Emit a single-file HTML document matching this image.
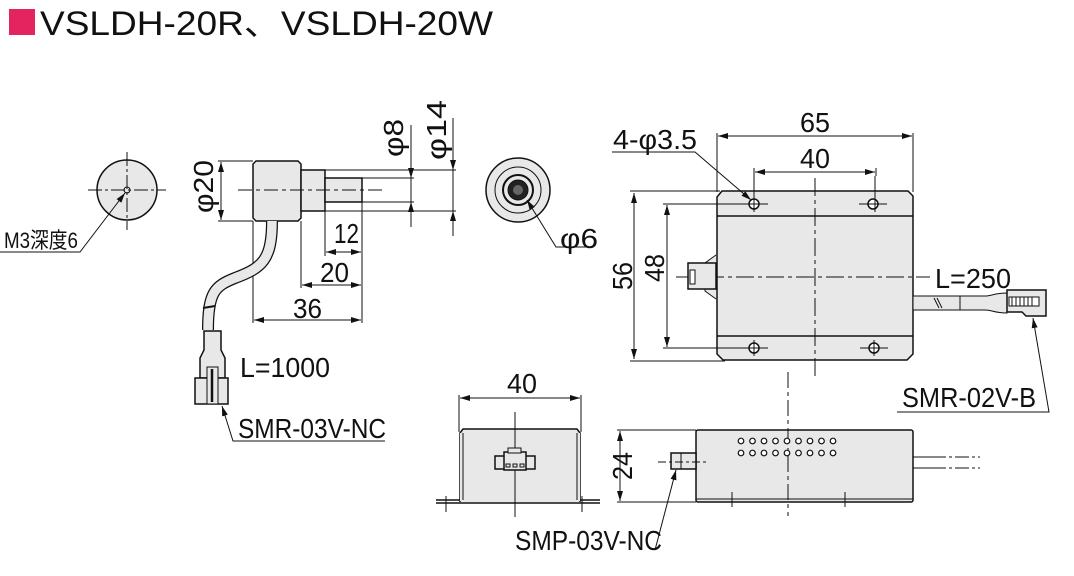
<!DOCTYPE html>
<html><head><meta charset="utf-8"><style>
html,body{margin:0;padding:0;background:#fff;}
svg{display:block;}
text{font-family:"Liberation Sans","Noto Sans CJK JP",sans-serif;fill:#111;}
</style></head><body>
<svg width="1074" height="576" viewBox="0 0 1074 576" xmlns="http://www.w3.org/2000/svg">
<defs>
<marker id="a" viewBox="0 0 10 6" refX="10" refY="3" markerWidth="10" markerHeight="6" orient="auto-start-reverse" markerUnits="userSpaceOnUse"><path d="M0,0 L10,3 L0,6z" fill="#111"/></marker>
</defs>
<rect x="9" y="9" width="26" height="26" fill="#e3245f"/>
<text x="40" y="35" font-size="34" textLength="453" lengthAdjust="spacingAndGlyphs">VSLDH-20R、VSLDH-20W</text>

<g stroke="#111" fill="none" stroke-width="1">
<circle cx="127" cy="190" r="30" fill="#e8e8e8" stroke-width="1.5"/>
<circle cx="127" cy="190" r="3"/>
<line x1="88" y1="190" x2="166" y2="190" stroke-dasharray="14,3,3,3"/>
<line x1="127" y1="152" x2="127" y2="230" stroke-dasharray="14,3,3,3"/>
<polyline points="125,193 80,252 0,252" marker-start="url(#a)"/>

<path d="M256,161 H298 L301,164 V218 L298,221 H256 L253,218 V164Z" fill="#e8e8e8" stroke-width="1.5"/>
<rect x="301" y="170" width="24" height="41" fill="#e8e8e8" stroke-width="1.5"/>
<rect x="325" y="178" width="37" height="24" fill="#e8e8e8" stroke-width="1.5"/>
<line x1="238" y1="190" x2="382" y2="190" stroke-dasharray="14,4,4,4"/>
<line x1="218" y1="161" x2="253" y2="161"/><line x1="218" y1="221" x2="253" y2="221"/>
<line x1="221" y1="162" x2="221" y2="220" marker-start="url(#a)" marker-end="url(#a)"/>
<line x1="362" y1="178" x2="414" y2="178"/><line x1="362" y1="202" x2="414" y2="202"/>
<line x1="411" y1="125" x2="411" y2="227"/>
<line x1="411" y1="168" x2="411" y2="178" marker-end="url(#a)"/>
<line x1="411" y1="212" x2="411" y2="202" marker-end="url(#a)"/>
<line x1="325" y1="170" x2="456" y2="170"/><line x1="325" y1="211" x2="456" y2="211"/>
<line x1="453" y1="118" x2="453" y2="236"/>
<line x1="453" y1="160" x2="453" y2="170" marker-end="url(#a)"/>
<line x1="453" y1="221" x2="453" y2="211" marker-end="url(#a)"/>
<line x1="325" y1="211" x2="325" y2="256"/><line x1="362" y1="202" x2="362" y2="323"/>
<line x1="301" y1="221" x2="301" y2="288"/><line x1="253" y1="221" x2="253" y2="323"/>
<line x1="326" y1="252" x2="361" y2="252" marker-start="url(#a)" marker-end="url(#a)"/>
<line x1="302" y1="285" x2="361" y2="285" marker-start="url(#a)" marker-end="url(#a)"/>
<line x1="254" y1="320" x2="361" y2="320" marker-start="url(#a)" marker-end="url(#a)"/>
<path d="M272,221 C272,260 262,268 235,278 C215,286 208,292 208,330" stroke-width="12" stroke="#111"/>
<path d="M272,221 C272,260 262,268 235,278 C215,286 208,292 208,330" stroke-width="9.5" stroke="#e8e8e8"/>
<line x1="203" y1="308" x2="215" y2="306" stroke-width="2"/>
<path d="M204,331 H221 V350 L225,358 V378 H200 V358 L204,350Z" fill="#e8e8e8" stroke-width="1.5"/>
<rect x="195" y="378" width="33" height="26" fill="#e8e8e8" stroke-width="1.5"/>
<rect x="207" y="367" width="11" height="37" fill="#e8e8e8"/>
<line x1="212" y1="369" x2="212" y2="402" stroke-width="2.5"/>
<polyline points="222,406 233,441 385,441" marker-start="url(#a)"/>

<circle cx="518" cy="190" r="32" fill="#e8e8e8" stroke-width="1.5"/>
<circle cx="518" cy="190" r="23"/>
<circle cx="518" cy="190" r="15" stroke-width="2"/>
<circle cx="518" cy="190" r="10" fill="#222"/>
<circle cx="518" cy="190" r="5" fill="#666" stroke="none"/>
<polyline points="527,200 556,247 592,247" marker-start="url(#a)"/>

<path d="M722,191 H908 L913,196 V354 L907,360 H723 L717,354 V197Z" fill="#e8e8e8" stroke-width="1.5"/>
<line x1="717" y1="216" x2="913" y2="216" stroke-width="1.5"/>
<line x1="717" y1="336" x2="913" y2="336" stroke-width="1.5"/>
<circle cx="754" cy="204" r="5" fill="#fff" stroke-width="1.5"/><circle cx="873" cy="204" r="5" fill="#fff" stroke-width="1.5"/>
<circle cx="754" cy="348" r="5" fill="#fff" stroke-width="1.5"/><circle cx="874" cy="348" r="5" fill="#fff" stroke-width="1.5"/>
<line x1="740" y1="204" x2="768" y2="204"/><line x1="754" y1="176" x2="754" y2="212"/>
<line x1="859" y1="204" x2="887" y2="204"/><line x1="875" y1="176" x2="875" y2="212"/>
<line x1="740" y1="348" x2="768" y2="348"/><line x1="754" y1="340" x2="754" y2="356"/>
<line x1="860" y1="348" x2="888" y2="348"/><line x1="874" y1="340" x2="874" y2="356"/>
<line x1="815" y1="178" x2="815" y2="376" stroke-dasharray="18,4,4,4"/>
<line x1="676" y1="277" x2="930" y2="277" stroke-dasharray="18,4,4,4"/>
<path d="M716,255 L705,263 V291 L716,299" fill="#e8e8e8"/>
<rect x="688" y="263" width="28" height="26" fill="#e8e8e8" stroke-width="1.5"/>
<rect x="690" y="270" width="5" height="14" fill="#fff"/>
<rect x="913" y="296" width="47" height="14" fill="#e8e8e8"/>
<path d="M960,296 H985 C992,296 994,293 1007,293 V313 C994,313 992,310 985,310 H960Z" fill="#e8e8e8"/>
<line x1="934" y1="298" x2="939" y2="308"/><line x1="937" y1="298" x2="942" y2="308"/>
<path d="M1007,290 H1046 V316 H1026 L1022,312 H1007Z" fill="#e8e8e8" stroke-width="1.5"/>
<rect x="1009" y="297" width="30" height="9" fill="#fff"/>
<line x1="1012" y1="297" x2="1012" y2="306"/><line x1="1016" y1="297" x2="1016" y2="306"/><line x1="1020" y1="297" x2="1020" y2="306"/><line x1="1024" y1="297" x2="1024" y2="306"/><line x1="1028" y1="297" x2="1028" y2="306"/><line x1="1032" y1="297" x2="1032" y2="306"/>
<line x1="717" y1="133" x2="717" y2="192"/><line x1="913" y1="133" x2="913" y2="192"/>
<line x1="718" y1="136" x2="912" y2="136" marker-start="url(#a)" marker-end="url(#a)"/>
<line x1="754" y1="168" x2="754" y2="176"/><line x1="876" y1="168" x2="876" y2="176"/>
<line x1="755" y1="172" x2="875" y2="172" marker-start="url(#a)" marker-end="url(#a)"/>
<polyline points="612,152 695,152 751,200" marker-end="url(#a)"/>
<line x1="630" y1="191" x2="720" y2="191"/><line x1="630" y1="361" x2="725" y2="361"/>
<line x1="634" y1="193" x2="634" y2="359" marker-start="url(#a)" marker-end="url(#a)"/>
<line x1="663" y1="204" x2="745" y2="204"/><line x1="663" y1="348" x2="745" y2="348"/>
<line x1="667" y1="205" x2="667" y2="347" marker-start="url(#a)" marker-end="url(#a)"/>
<polyline points="1033,318 1049,412 897,412" marker-start="url(#a)"/>

<path d="M460,502 V433 L463,429 H577 L580,433 V502" fill="#e8e8e8" stroke-width="1.5"/>
<path d="M436,503 H600 M436,500 H460 M580,500 H600" stroke-width="1.5"/>
<rect x="460" y="433" width="120" height="68" fill="#e8e8e8" stroke="none"/>
<line x1="463" y1="433" x2="463" y2="500"/><line x1="577" y1="433" x2="577" y2="500"/>
<line x1="446" y1="496" x2="446" y2="512"/><line x1="582" y1="496" x2="582" y2="512"/>
<line x1="515" y1="412" x2="515" y2="517"/>
<rect x="495" y="456" width="40" height="13" fill="#e8e8e8" stroke-width="1.5"/>
<rect x="504" y="452" width="22" height="18" fill="#e8e8e8" stroke-width="1.5"/>
<rect x="508" y="448" width="13" height="5" fill="#e8e8e8"/>
<rect x="506" y="464" width="4" height="3"/><rect x="513" y="464" width="4" height="3"/><rect x="520" y="464" width="4" height="3"/>
<line x1="459" y1="395" x2="459" y2="432"/><line x1="581" y1="395" x2="581" y2="432"/>
<line x1="460" y1="398" x2="580" y2="398" marker-start="url(#a)" marker-end="url(#a)"/>

<rect x="696" y="430" width="217" height="72" rx="2" fill="#e8e8e8" stroke-width="1.5"/>
<line x1="696" y1="499" x2="913" y2="499"/>
<line x1="732" y1="492" x2="732" y2="507"/><line x1="845" y1="492" x2="845" y2="507"/>
<line x1="788" y1="372" x2="788" y2="516" stroke-dasharray="16,4,4,4"/>
<g stroke-width="1.2" fill="#fff">
<circle cx="741" cy="441" r="2.8"/><circle cx="752.5" cy="441" r="2.8"/><circle cx="764" cy="441" r="2.8"/><circle cx="775.5" cy="441" r="2.8"/><circle cx="787" cy="441" r="2.8"/><circle cx="798.5" cy="441" r="2.8"/><circle cx="810" cy="441" r="2.8"/><circle cx="821.5" cy="441" r="2.8"/><circle cx="833" cy="441" r="2.8"/>
<circle cx="741" cy="453" r="2.8"/><circle cx="752.5" cy="453" r="2.8"/><circle cx="764" cy="453" r="2.8"/><circle cx="775.5" cy="453" r="2.8"/><circle cx="787" cy="453" r="2.8"/><circle cx="798.5" cy="453" r="2.8"/><circle cx="810" cy="453" r="2.8"/><circle cx="821.5" cy="453" r="2.8"/><circle cx="833" cy="453" r="2.8"/>
</g>
<rect x="671" y="453" width="25" height="16" fill="#e8e8e8" stroke-width="1.5"/>
<line x1="681" y1="453" x2="681" y2="469"/>
<line x1="658" y1="462" x2="708" y2="462" stroke-dasharray="8,3,3,3"/>
<line x1="913" y1="457" x2="932" y2="457"/><line x1="913" y1="468" x2="932" y2="468"/>
<line x1="932" y1="457" x2="980" y2="457" stroke-dasharray="14,3,3,3"/><line x1="932" y1="468" x2="980" y2="468" stroke-dasharray="14,3,3,3"/>
<line x1="617" y1="430" x2="696" y2="430"/><line x1="617" y1="502" x2="696" y2="502"/>
<line x1="620" y1="431" x2="620" y2="501" marker-start="url(#a)" marker-end="url(#a)"/>
<line x1="676" y1="470" x2="655" y2="550" marker-start="url(#a)"/>
</g>

<g font-size="28" lengthAdjust="spacingAndGlyphs">
<text x="4" y="248" font-size="22" textLength="74" lengthAdjust="spacingAndGlyphs">M3深度6</text>
<text transform="translate(213,213) rotate(-90)" textLength="53" lengthAdjust="spacingAndGlyphs">φ20</text>
<text transform="translate(403,157) rotate(-90)" textLength="38" lengthAdjust="spacingAndGlyphs">φ8</text>
<text transform="translate(446,160) rotate(-90)" textLength="60" lengthAdjust="spacingAndGlyphs">φ14</text>
<text x="334" y="243" textLength="25" lengthAdjust="spacingAndGlyphs">12</text>
<text x="320" y="282" textLength="29" lengthAdjust="spacingAndGlyphs">20</text>
<text x="293" y="318" textLength="29" lengthAdjust="spacingAndGlyphs">36</text>
<text x="240" y="377" textLength="90" lengthAdjust="spacingAndGlyphs">L=1000</text>
<text x="238" y="438" textLength="148" lengthAdjust="spacingAndGlyphs">SMR-03V-NC</text>
<text x="560" y="248" textLength="38" lengthAdjust="spacingAndGlyphs">φ6</text>
<text x="800" y="132" textLength="30" lengthAdjust="spacingAndGlyphs">65</text>
<text x="800" y="168" textLength="30" lengthAdjust="spacingAndGlyphs">40</text>
<text x="613" y="149" textLength="84" lengthAdjust="spacingAndGlyphs">4-φ3.5</text>
<text transform="translate(632,290) rotate(-90)" textLength="28" lengthAdjust="spacingAndGlyphs">56</text>
<text transform="translate(664,282) rotate(-90)" textLength="28" lengthAdjust="spacingAndGlyphs">48</text>
<text x="935" y="288" textLength="76" lengthAdjust="spacingAndGlyphs">L=250</text>
<text x="902" y="407" textLength="134" lengthAdjust="spacingAndGlyphs">SMR-02V-B</text>
<text x="507" y="393" textLength="30" lengthAdjust="spacingAndGlyphs">40</text>
<text transform="translate(632,480) rotate(-90)" textLength="28" lengthAdjust="spacingAndGlyphs">24</text>
<text x="515" y="550" textLength="147" lengthAdjust="spacingAndGlyphs">SMP-03V-NC</text>
</g>
</svg>
</body></html>
